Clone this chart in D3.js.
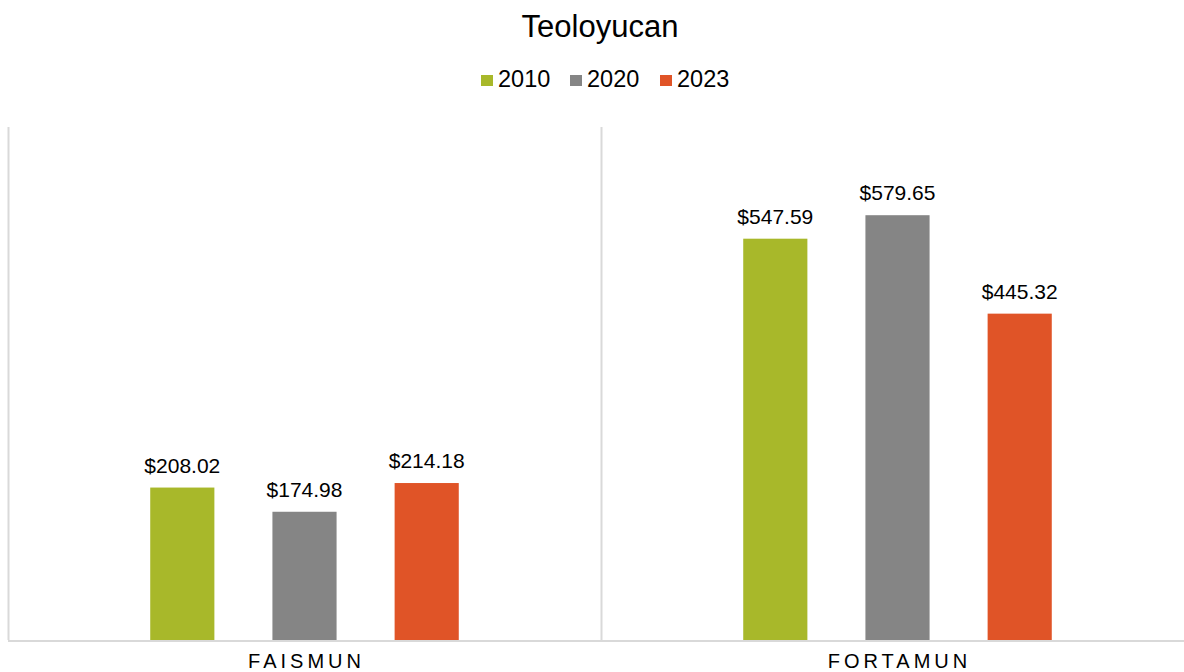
<!DOCTYPE html>
<meta charset="utf-8">
<title>Teoloyucan</title>
<style>
  body { margin: 0; background: #fff; }
  text { font-family: "Liberation Sans", Arial, sans-serif; }
</style>
<script src="https://d3js.org/d3.v7.min.js"></script>
<div id="chart"></div>
<script>
// data
var categories = ["FAISMUN", "FORTAMUN"];
var years = ["2010", "2020", "2023"];
var values2010 = [208.02, 547.59];
var values2020 = [174.98, 579.65];
var values2023 = [214.18, 445.32];
var colors = ["#A8B82A", "#858585", "#E05427"];

var seriesValues = [values2010, values2020, values2023];

var width = 1184, height = 672;
var margin = {top: 127, right: -10, bottom: 32, left: 8};

var svg = d3.select("#chart")
  .append("svg")
    .attr("width", width)
    .attr("height", height);

var x0 = d3.scaleBand()
  .domain(categories)
  .range([margin.left, width - margin.right])
  .paddingInner(0)
  .paddingOuter(0);

var x1 = d3.scaleBand()
  .domain(years)
  .range([0, x0.bandwidth()])
  .paddingInner(0.475)
  .paddingOuter(1.164);

var y = d3.scaleLinear()
  .domain([0, 700])
  .range([height - margin.bottom, margin.top]);

// frame lines: left edge, category divider, baseline
var lineColor = "#d9d9d9";
svg.selectAll(".divider")
  .data(categories)
  .enter()
  .append("line")
    .attr("x1", function(d) { return Math.round(x0(d)) + 0.5; })
    .attr("x2", function(d) { return Math.round(x0(d)) + 0.5; })
    .attr("y1", y(700))
    .attr("y2", y(0))
    .attr("stroke", lineColor)
    .attr("stroke-width", 2);

svg.append("line")
  .attr("x1", margin.left)
  .attr("x2", width)
  .attr("y1", y(0) + 1)
  .attr("y2", y(0) + 1)
  .attr("stroke", lineColor)
  .attr("stroke-width", 2);

// bars
var rows = [];
categories.forEach(function(c, i) {
  years.forEach(function(yr, j) {
    rows.push({cat: c, year: yr, value: seriesValues[j][i], color: colors[j]});
  });
});

var groups = svg.append("g");

groups.selectAll("rect")
  .data(rows)
  .enter()
  .append("rect")
    .attr("x", function(d) { return x0(d.cat) + x1(d.year); })
    .attr("width", x1.bandwidth())
    .attr("y", function(d) { return y(d.value); })
    .attr("height", function(d) { return y(0) - y(d.value); })
    .attr("fill", function(d) { return d.color; });

groups.selectAll(".lbl")
  .data(rows)
  .enter()
  .append("text")
    .attr("class", "lbl")
    .attr("x", function(d) { return x0(d.cat) + x1(d.year) + x1.bandwidth() / 2; })
    .attr("y", function(d) { return y(d.value) - 15; })
    .attr("text-anchor", "middle")
    .attr("font-size", "21px")
    .attr("fill", "#000")
    .text(function(d) { return "$" + d.value.toFixed(2); });

// category labels
svg.selectAll(".cat")
  .data(categories)
  .enter()
  .append("text")
    .attr("class", "cat")
    .attr("x", function(d) { return x0(d) + x0.bandwidth() / 2 + 2; })
    .attr("y", 668)
    .attr("text-anchor", "middle")
    .attr("font-size", "20px")
    .attr("letter-spacing", "4px")
    .attr("fill", "#000")
    .text(function(d) { return d; });

// title
svg.append("text")
  .attr("x", 600)
  .attr("y", 37)
  .attr("text-anchor", "middle")
  .attr("font-size", "31px")
  .attr("fill", "#000")
  .text("Teoloyucan");

// legend
var legendX = [481, 570, 660];
var legend = svg.selectAll(".leg")
  .data(years)
  .enter()
  .append("g")
    .attr("class", "leg")
    .attr("transform", function(d, i) { return "translate(" + legendX[i] + ",75)"; });

legend.append("rect")
  .attr("width", 12)
  .attr("height", 11)
  .attr("fill", function(d, i) { return colors[i]; });

legend.append("text")
  .attr("x", 17)
  .attr("y", 12)
  .attr("font-size", "23.5px")
  .attr("fill", "#000")
  .text(function(d) { return d; });
</script>
